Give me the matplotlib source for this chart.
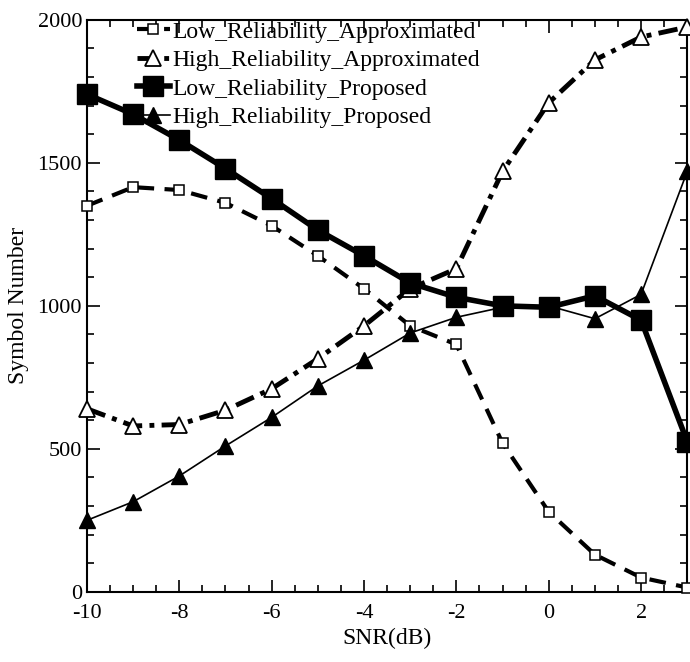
import numpy as np
import matplotlib.pyplot as plt

snr = [-10, -9, -8, -7, -6, -5, -4, -3, -2, -1, 0, 1, 2, 3]
low_approx = [1350, 1415, 1405, 1360, 1280, 1175, 1060, 930, 865, 520, 280, 130, 50, 15]
high_approx = [640, 580, 585, 635, 710, 815, 930, 1060, 1130, 1470, 1710, 1860, 1940, 1975]
low_prop = [1740, 1670, 1580, 1480, 1375, 1265, 1175, 1080, 1030, 1000, 995, 1035, 950, 525]
high_prop = [250, 315, 405, 510, 610, 720, 810, 905, 960, 995, 1000, 955, 1040, 1470]

plt.rcParams['font.family'] = ['Liberation Serif', 'DejaVu Serif']
plt.rcParams['font.size'] = 16
plt.rcParams['axes.unicode_minus'] = False

fig = plt.figure(figsize=(6.9, 6.62), dpi=100)
ax = fig.add_axes([0.126, 0.106, 0.87, 0.864])

ax.plot(snr, low_approx, color='black', lw=3, ls=(0, (4, 2.5)), marker='s', ms=7,
        mfc='white', mec='black', mew=1.1, clip_on=False, label='Low_Reliability_Approximated', zorder=3)
ax.plot(snr, high_approx, color='black', lw=3.5, ls=(0, (4, 1.5, 1, 1.5)), marker='^', ms=12,
        mfc='white', mec='black', mew=1.3, clip_on=False, label='High_Reliability_Approximated', zorder=3)
ax.plot(snr, low_prop, color='black', lw=4, ls='-', marker='s', ms=14,
        mfc='black', mec='black', clip_on=False, label='Low_Reliability_Proposed', zorder=4)
ax.plot(snr, high_prop, color='black', lw=1.2, ls='-', marker='^', ms=11,
        mfc='black', mec='black', clip_on=False, label='High_Reliability_Proposed', zorder=4)

ax.set_xlim(-10, 3)
ax.set_ylim(0, 2000)
ax.set_xticks([-10, -8, -6, -4, -2, 0, 2])
ax.set_xticks(np.arange(-10, 3.01, 0.5), minor=True)
ax.set_yticks([0, 500, 1000, 1500, 2000])
ax.set_yticks(np.arange(0, 2001, 100), minor=True)
ax.tick_params(which='both', direction='in', top=True, right=True, width=1.2)
ax.tick_params(which='major', length=9, labelsize=16)
ax.tick_params(axis='x', which='major', pad=9)
ax.tick_params(which='minor', length=5)
for s in ax.spines.values():
    s.set_linewidth(1.5)

ax.set_xlabel('SNR(dB)', fontsize=17, labelpad=3)
ax.set_ylabel('Symbol Number', fontsize=17, labelpad=6)

ax.legend(loc='upper left', bbox_to_anchor=(0.083, 0.998), frameon=False, fontsize=17,
          handlelength=1.4, handletextpad=0.1, labelspacing=0.3, borderaxespad=0, borderpad=0)

fig.savefig('out.png', dpi=100)
